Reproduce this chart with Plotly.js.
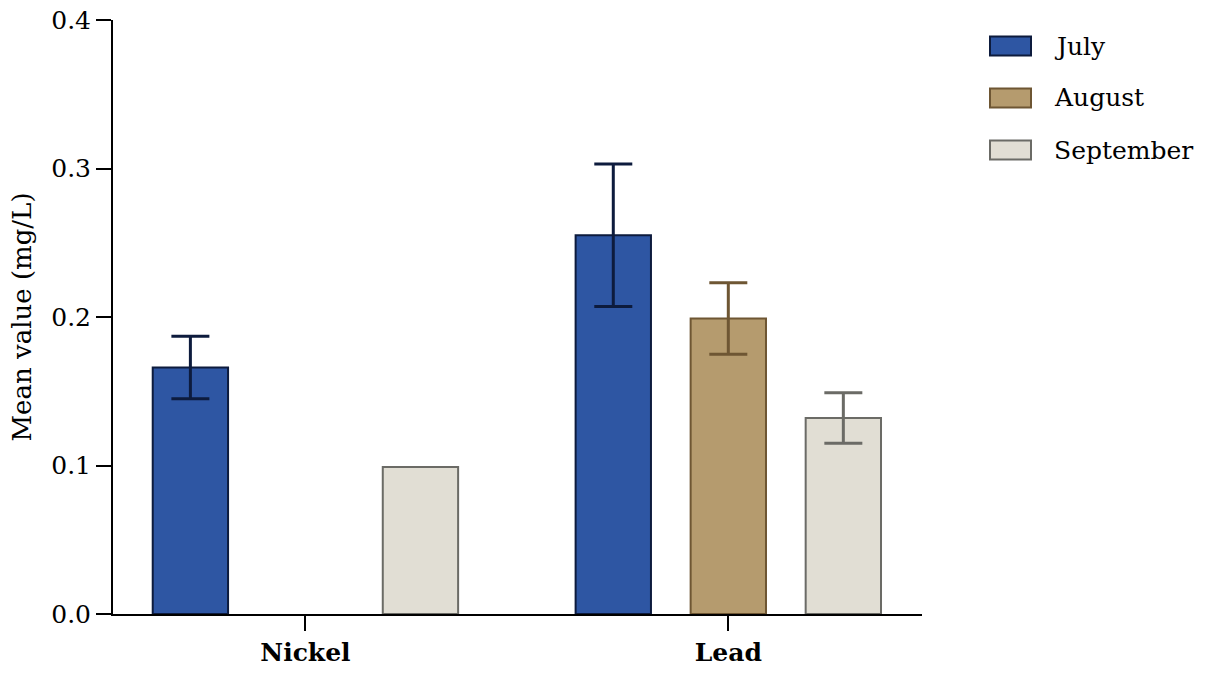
<!DOCTYPE html>
<html>
<head>
<meta charset="utf-8">
<script src="https://cdn.plot.ly/plotly-3.0.1.min.js"></script>
<style>html,body{margin:0;padding:0;background:#fff;}#chart{width:1206px;height:673px;}</style>
</head>
<body>
<div id="chart"></div>
<script>
var categories = ["Nickel", "Lead"];
var months = ["July", "August", "September"];
var julyValues = [0.166, 0.255];
var julyErrors = [0.021, 0.048];
var augustValues = [null, 0.199];
var augustErrors = [null, 0.024];
var septemberValues = [0.099, 0.132];
var septemberErrors = [null, 0.017];

var fills = ["#2e56a3", "#b59b6e", "#e1ded4"];
var edges = ["#0d1b3d", "#6e5633", "#6b6b66"];
var values = [julyValues, augustValues, septemberValues];
var errors = [julyErrors, augustErrors, septemberErrors];

var W = 1206, H = 673;
var M = {l: 113, r: 284, t: 20, b: 59};
var font = "DejaVu Serif";
var fs = 25;

var traces = months.map(function (m, i) {
  return {
    type: "bar",
    name: m,
    x: categories,
    y: values[i],
    marker: {color: fills[i], line: {color: edges[i], width: 2}},
    error_y: {
      type: "data",
      array: errors[i].map(function (v) { return v == null ? NaN : v; }),
      visible: true,
      color: edges[i],
      thickness: 3,
      width: 19
    },
    showlegend: false,
    hoverinfo: "x+y+name"
  };
});

var pw = W - M.l - M.r, ph = H - M.t - M.b;
function px(x) { return (x - M.l) / pw; }
function py(y) { return (H - M.b - y) / ph; }
var legendCenters = [46, 98, 150];
var shapes = [], annotations = [];
months.forEach(function (m, i) {
  var cy = legendCenters[i];
  shapes.push({
    type: "rect", xref: "paper", yref: "paper",
    x0: px(990), x1: px(1031), y0: py(cy + 9.5), y1: py(cy - 9.5),
    fillcolor: fills[i], line: {color: edges[i], width: 2}
  });
  annotations.push({
    xref: "paper", yref: "paper", x: px(1052), y: py(cy),
    xanchor: "left", yanchor: "middle", showarrow: false,
    text: m, font: {family: font, size: fs, color: "#000"}
  });
});

var layout = {
  width: W, height: H,
  margin: M,
  paper_bgcolor: "#fff", plot_bgcolor: "#fff",
  font: {family: font, size: fs, color: "#000"},
  barmode: "group",
  bargap: 0.184,
  bargroupgap: 0.345,
  showlegend: false,
  xaxis: {
    type: "category",
    range: [-0.455, 1.458],
    showline: true, linecolor: "#000", linewidth: 2,
    ticks: "outside", ticklen: 15, tickwidth: 2, tickcolor: "#000",
    showgrid: false, zeroline: false,
    tickfont: {family: font, size: fs, color: "#000", weight: "bold"}
  },
  yaxis: {
    range: [0, 0.4],
    dtick: 0.1, tick0: 0, tickformat: ".1f",
    showline: true, linecolor: "#000", linewidth: 2,
    ticks: "outside", ticklen: 15, tickwidth: 2, tickcolor: "#000",
    showgrid: false, zeroline: false,
    tickfont: {family: font, size: fs, color: "#000"},
    title: {text: "Mean value (mg/L)", font: {family: font, size: 26, color: "#000"}, standoff: 12}
  },
  shapes: shapes,
  annotations: annotations
};

Plotly.newPlot("chart", traces, layout, {displayModeBar: false, staticPlot: true});
</script>
</body>
</html>
